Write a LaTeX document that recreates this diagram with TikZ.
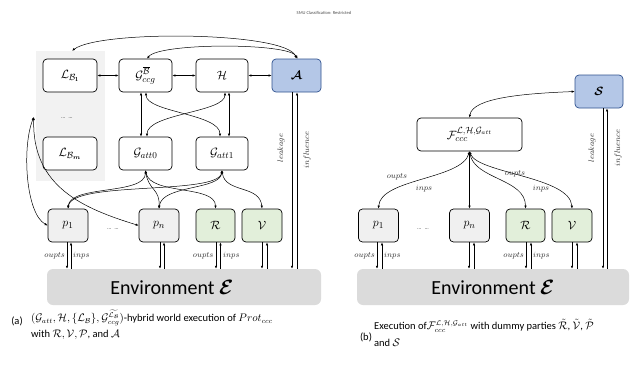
\documentclass[tikz,border=0pt]{standalone}
\usepackage{amsmath,bm}
\usepackage{fontspec}
\newfontfamily\carlito{Carlito}
\usetikzlibrary{arrows.meta,calc}
\definecolor{panelgray}{RGB}{242,242,242}
\definecolor{envgray}{RGB}{219,219,219}
\definecolor{partygray}{RGB}{240,240,240}
\definecolor{greenfill}{RGB}{226,239,218}
\definecolor{bluefill}{RGB}{180,199,231}
\definecolor{blueline}{RGB}{47,82,143}
\begin{document}
\begin{tikzpicture}[x=1pt,y=-1pt,
  box/.style={draw, line width=0.7pt, rounded corners=4pt, fill=white, minimum height=33pt, inner sep=0pt, font=\fontsize{12.5}{14}\selectfont},
  partybox/.style={box, fill=partygray, minimum width=40pt},
  honestbox/.style={box, fill=greenfill, minimum width=40pt},
  advbox/.style={box, fill=bluefill, draw=blueline},
  envbox/.style={fill=envgray, rounded corners=6pt, minimum height=36pt, inner sep=0pt},
  envtext/.style={font=\carlito\fontsize{20}{22}\selectfont, inner sep=0pt},
  conn/.style={line width=0.5pt, {Latex[length=3pt,width=2.4pt]}-{Latex[length=3pt,width=2.4pt]}},
  oneway/.style={line width=0.5pt, -{Latex[length=3pt,width=2.4pt]}},
  lbl/.style={font=\fontsize{8}{9}\selectfont, inner sep=1pt, text=black!80},
  dots/.style={font=\fontsize{6}{7}\selectfont, inner sep=0pt},
  captext/.style={font=\carlito\fontsize{10.5}{12}\selectfont, inner sep=0pt}
]
\useasboundingbox (0,0) rectangle (637,364);

\node[font=\carlito\fontsize{4.5}{5}\selectfont, text=black!70] (hdr) at (324,13) {SMU Classification: Restricted};

% ---------- left diagram ----------
\node[fill=panelgray, minimum width=69pt, minimum height=130pt, inner sep=0pt] (panel) at (70.5,116) {};
\node[dots] (ldots) at (67,118) {\dots\ \dots};

\node[box, minimum width=54pt] (LB1) at (70,75.5) {$\mathcal{L}_{\mathcal{B}_{\mathbf{1}}}$};
\node[box, minimum width=53pt] (Gccg) at (145.5,75.5) {$\mathcal{G}_{ccg}^{\overline{\mathcal{B}}}$};
\node[box, minimum width=52pt] (H) at (222,75.5) {$\mathcal{H}$};
\node[advbox, minimum width=49pt] (A) at (296.5,75.5) {$\bm{\mathcal{A}}$};

\node[box, minimum width=54pt] (LBm) at (70,153.5) {$\mathcal{L}_{\mathcal{B}_{\bm{m}}}$};
\node[box, minimum width=53pt] (Gatt0) at (145.5,153.5) {$\mathcal{G}_{att0}$};
\node[box, minimum width=52pt] (Gatt1) at (222,153.5) {$\mathcal{G}_{att1}$};

\node[partybox] (p1) at (68,225.5) {$p_1$};
\node[partybox] (pn) at (159,225.5) {$p_n$};
\node[honestbox, minimum width=39pt] (R) at (215.5,225.5) {$\mathcal{R}$};
\node[honestbox] (V) at (262,225.5) {$\mathcal{V}$};
\node[dots] (pdots) at (113,229) {\dots\ \dots};

\node[envbox, minimum width=274pt] (env1) at (184,287) {};
\node[envtext] (env1txt) at (172,287) {Environment $\bm{\mathcal{E}}$};

% top arcs
\draw[conn] (A.north) .. controls +(-10,-27) and +(28,-21) .. ($(panel.north)+(1.5,0)$);
\draw[conn] ($(A.north)+(1,0)$) .. controls +(-8,-16) and +(13,-16) .. ($(Gccg.north)+(1.5,0)$);

% horizontal
\draw[conn] (LB1.east) -- (Gccg.west);
\draw[conn] (Gccg.east) -- (H.west);
\draw[conn] (H.east) -- (A.west);

% middle
\draw[conn] ($(Gccg.south)+(-4.5,0)$) -- ($(Gatt0.north)+(-4.5,0)$);
\draw[conn] ($(H.south)+(7,0)$) -- ($(Gatt1.north)+(7,0)$);
\draw[conn] ($(Gccg.south)+(0.5,0)$) .. controls +(0,20) and +(0,-23) .. ($(Gatt1.north)+(-2,0)$);
\draw[conn] ($(H.south)+(3,0)$) .. controls +(0,20) and +(0,-23) .. ($(Gatt0.north)+(1.5,0)$);

% att to parties
\draw[conn] (Gatt0.south) .. controls +(0,25) and +(2,-24) .. (p1.north);
\draw[conn] (Gatt1.south) .. controls +(-4,25) and +(4,-28) .. (p1.north);
\draw[conn] (Gatt0.south) .. controls +(3,20) and +(1,-20) .. (pn.north);
\draw[conn] (Gatt0.south) .. controls +(5,25) and +(0,-24) .. (R.north);
\draw[conn] (Gatt1.south) .. controls +(-2,20) and +(3,-24) .. (pn.north);
\draw[conn] (Gatt1.south) .. controls +(3,23) and +(-2,-24) .. (V.north);

% left links
\coordinate (lj) at ($(panel.west)+(-2,1)$);
\draw[conn] (lj) .. controls +(-12,30) and +(-22,-12) .. (p1.west);
\draw[conn] (lj) .. controls +(-2,70) and +(-55,-17) .. (pn.west);

% vertical links to environment
\foreach \n/\a/\b in {p1/-1/3, pn/1/5, R/0.5/5, V/0/5, A/-4.5/0.5}{
  \coordinate (d\n) at ($(\n.south)+(\a,0)$);
  \coordinate (u\n) at ($(\n.south)+(\b,0)$);
  \draw[oneway] (d\n) -- (d\n |- env1.north);
  \draw[oneway] (u\n |- env1.north) -- (u\n);
}
\node[lbl, anchor=east] (o1) at (66,256) {$oupts$};
\node[lbl, anchor=west] (i1) at (72,256) {$inps$};
\node[lbl, anchor=east] (o2) at (214.5,256) {$oupts$};
\node[lbl, anchor=west] (i2) at (222,256) {$inps$};
\node[lbl, rotate=90] (leak1) at (281,148) {$leakage$};
\node[lbl, rotate=90] (infl1) at (307,150) {$influence$};

% ---------- right diagram ----------
\node[advbox, minimum width=48pt] (S) at (599,91.5) {$\bm{\mathcal{S}}$};
\node[box, minimum width=105pt] (F) at (469.5,134.5) {$\mathcal{F}_{ccc}^{\mathcal{L},\mathcal{H},\mathcal{G}_{att}}$};

\node[partybox] (p1b) at (378.5,225.5) {$p_1$};
\node[partybox] (pnb) at (469.5,225.5) {$p_n$};
\node[honestbox, minimum width=39pt] (Rb) at (525.5,225.5) {$\mathcal{R}$};
\node[honestbox] (Vb) at (572,225.5) {$\mathcal{V}$};
\node[dots] (pdotsb) at (423,229) {\dots\ \dots};

\node[envbox, minimum width=272pt] (env2) at (493,287) {};
\node[envtext] (env2txt) at (493,287) {Environment $\bm{\mathcal{E}}$};

\draw[conn] (S.west) .. controls +(-50,2) and +(3,-20) .. (F.north);
\draw[conn] (F.south) .. controls +(-8,28) and +(2,-30) .. (p1b.north);
\draw[conn] (F.south) -- (pnb.north);
\draw[conn] (F.south) .. controls +(5,28) and +(0,-30) .. (Rb.north);
\draw[conn] (F.south) .. controls +(8,22) and +(-2,-32) .. (Vb.north);
\node[lbl] (o3) at (397,177) {$oupts$};
\node[lbl] (i3) at (424,189) {$inps$};
\node[lbl] (o4) at (515,174) {$oupts$};
\node[lbl] (i4) at (541,189) {$inps$};

\foreach \n/\a/\b in {p1b/-1.5/3.5, pnb/-0.5/4.5, Rb/0.5/5.5, Vb/0/5, S/4/8}{
  \coordinate (d\n) at ($(\n.south)+(\a,0)$);
  \coordinate (u\n) at ($(\n.south)+(\b,0)$);
  \draw[oneway] (d\n) -- (d\n |- env2.north);
  \draw[oneway] (u\n |- env2.north) -- (u\n);
}
\node[lbl, anchor=east] (o5) at (376,256) {$oupts$};
\node[lbl, anchor=west] (i5) at (383,256) {$inps$};
\node[lbl, anchor=east] (o6) at (525,256) {$oupts$};
\node[lbl, anchor=west] (i6) at (532,256) {$inps$};
\node[lbl, rotate=90] (leak2) at (592,148) {$leakage$};
\node[lbl, rotate=90] (infl2) at (618,148) {$influence$};

% ---------- captions ----------
\node[captext] (capa) at (17,321) {(a)};
\node[captext, anchor=west] (capa1) at (31,318) {$(\mathcal{G}_{att},\mathcal{H},\{\mathcal{L}_{\mathcal{B}}\},\mathcal{G}_{ccg}^{\widetilde{\mathcal{L}_{\mathcal{B}}}})$-hybrid world execution of $Prot_{ccc}$};
\node[captext, anchor=west] (capa2) at (31,335) {with $\mathcal{R},\mathcal{V},\mathcal{P}$, and $\mathcal{A}$};

\node[captext] (capb) at (366,337) {(b)};
\node[captext, anchor=west] (capb1) at (374,326) {Execution of$\mathcal{F}_{ccc}^{\mathcal{L},\mathcal{H},\mathcal{G}_{att}}$ with dummy parties $\tilde{\mathcal{R}}$, $\tilde{\mathcal{V}}$, $\tilde{\mathcal{P}}$};
\node[captext, anchor=west] (capb2) at (374,343) {and $\mathcal{S}$};
\end{tikzpicture}
\end{document}
